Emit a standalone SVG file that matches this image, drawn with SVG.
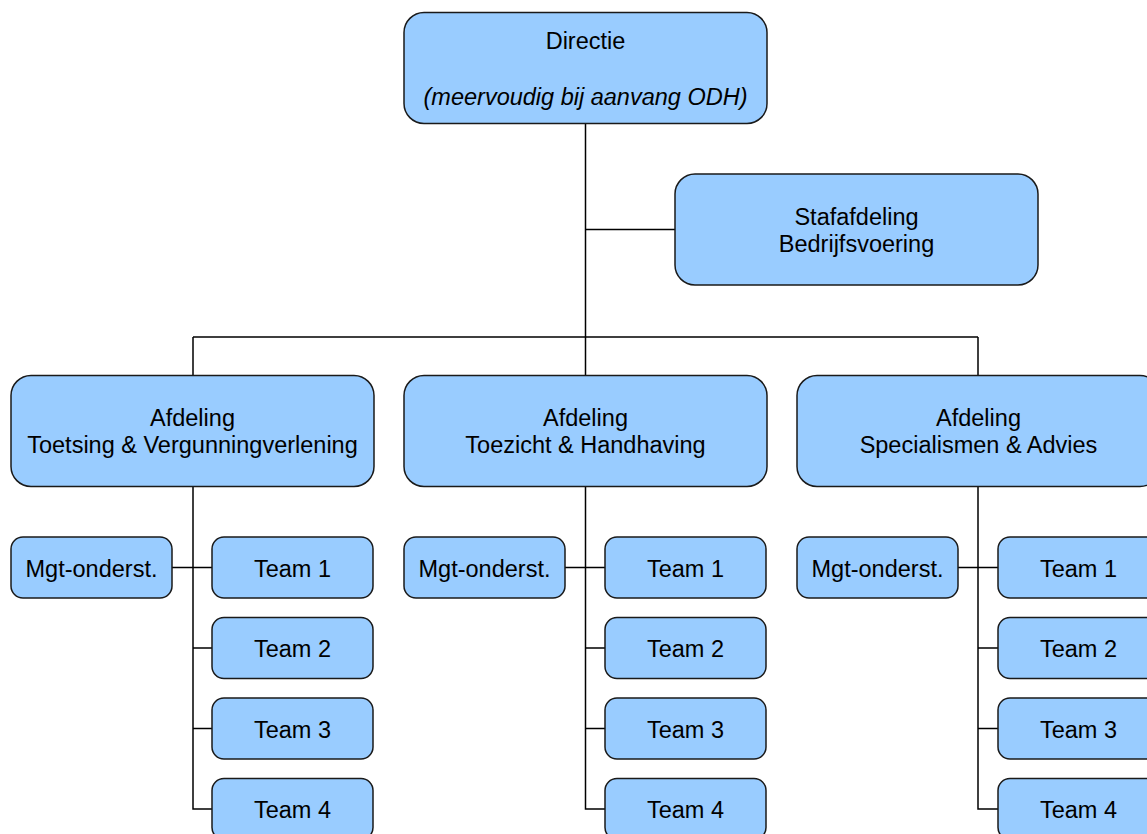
<svg xmlns="http://www.w3.org/2000/svg" width="1147" height="834" viewBox="0 0 1147 834">
<style>
.box{fill:#99CCFF;stroke:#1a1a1a;stroke-width:1.5}
.t{font-family:"Liberation Sans",Arial,sans-serif;font-size:23.5px;fill:#000;text-anchor:middle}
.i{font-style:italic}
.c{fill:none;stroke:#000;stroke-width:1.5}
</style>
<rect width="1147" height="834" fill="#fff"/>
<g id="connectors">
<path class="c" d="M585.5 124V375M585.5 229.5H675M193 337H978M193 337V375M978 337V375"/>
<path class="c" d="M193 487V809H212M172 567.5H212M193 648H212M193 728.5H212"/>
<path class="c" d="M585.5 487V809H605M565 567.5H605M585.5 648H605M585.5 728.5H605"/>
<path class="c" d="M978 487V809H998M958 567.5H998M978 648H998M978 728.5H998"/>
</g>
<g id="directie"><rect class="box" x="404" y="12.5" width="363" height="111" rx="20"/><text class="t" x="585.5" y="49">Directie</text><text class="t i" x="585.5" y="105">(meervoudig bij aanvang ODH)</text></g>
<g id="staf"><rect class="box" x="675" y="174" width="363" height="111" rx="20"/><text class="t" x="856.5" y="225">Stafafdeling</text><text class="t" x="856.5" y="252">Bedrijfsvoering</text></g>
<g id="afd1"><rect class="box" x="11" y="375.5" width="363" height="111" rx="20"/><text class="t" x="192.5" y="426">Afdeling</text><text class="t" x="192.5" y="452.5">Toetsing &amp; Vergunningverlening</text></g>
<g id="afd2"><rect class="box" x="404" y="375.5" width="363" height="111" rx="20"/><text class="t" x="585.5" y="426">Afdeling</text><text class="t" x="585.5" y="452.5">Toezicht &amp; Handhaving</text></g>
<g id="afd3"><rect class="box" x="797" y="375.5" width="363" height="111" rx="20"/><text class="t" x="978.5" y="426">Afdeling</text><text class="t" x="978.5" y="452.5">Specialismen &amp; Advies</text></g>
<g id="mgt1"><rect class="box" x="11" y="537" width="161" height="61" rx="12"/><text class="t" x="91.5" y="576.5">Mgt-onderst.</text></g>
<g id="mgt2"><rect class="box" x="404" y="537" width="161" height="61" rx="12"/><text class="t" x="484.5" y="576.5">Mgt-onderst.</text></g>
<g id="mgt3"><rect class="box" x="797" y="537" width="161" height="61" rx="12"/><text class="t" x="877.5" y="576.5">Mgt-onderst.</text></g>
<g id="t1-1"><rect class="box" x="212" y="537" width="161" height="61" rx="12"/><text class="t" x="292.5" y="576.5">Team 1</text></g>
<g id="t1-2"><rect class="box" x="212" y="617.5" width="161" height="61" rx="12"/><text class="t" x="292.5" y="657">Team 2</text></g>
<g id="t1-3"><rect class="box" x="212" y="698" width="161" height="61" rx="12"/><text class="t" x="292.5" y="737.5">Team 3</text></g>
<g id="t1-4"><rect class="box" x="212" y="778.5" width="161" height="61" rx="12"/><text class="t" x="292.5" y="818">Team 4</text></g>
<g id="t2-1"><rect class="box" x="605" y="537" width="161" height="61" rx="12"/><text class="t" x="685.5" y="576.5">Team 1</text></g>
<g id="t2-2"><rect class="box" x="605" y="617.5" width="161" height="61" rx="12"/><text class="t" x="685.5" y="657">Team 2</text></g>
<g id="t2-3"><rect class="box" x="605" y="698" width="161" height="61" rx="12"/><text class="t" x="685.5" y="737.5">Team 3</text></g>
<g id="t2-4"><rect class="box" x="605" y="778.5" width="161" height="61" rx="12"/><text class="t" x="685.5" y="818">Team 4</text></g>
<g id="t3-1"><rect class="box" x="998" y="537" width="161" height="61" rx="12"/><text class="t" x="1078.5" y="576.5">Team 1</text></g>
<g id="t3-2"><rect class="box" x="998" y="617.5" width="161" height="61" rx="12"/><text class="t" x="1078.5" y="657">Team 2</text></g>
<g id="t3-3"><rect class="box" x="998" y="698" width="161" height="61" rx="12"/><text class="t" x="1078.5" y="737.5">Team 3</text></g>
<g id="t3-4"><rect class="box" x="998" y="778.5" width="161" height="61" rx="12"/><text class="t" x="1078.5" y="818">Team 4</text></g>
</svg>
